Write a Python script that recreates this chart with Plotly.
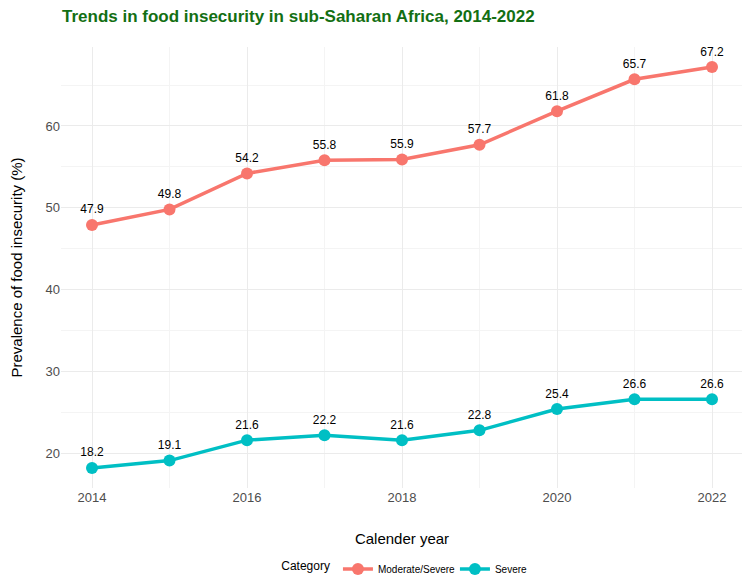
import plotly.graph_objects as go

years = [2014, 2015, 2016, 2017, 2018, 2019, 2020, 2021, 2022]
moderate_severe = [47.9, 49.8, 54.2, 55.8, 55.9, 57.7, 61.8, 65.7, 67.2]
severe = [18.2, 19.1, 21.6, 22.2, 21.6, 22.8, 25.4, 26.6, 26.6]
series_names = ["Moderate/Severe", "Severe"]
series_colors = ["#F8766D", "#00BFC4"]

fig = go.Figure()
for name, vals, col in zip(series_names, [moderate_severe, severe], series_colors):
    fig.add_trace(go.Scatter(
        x=years, y=vals, name=name, mode="lines+markers+text",
        line=dict(color=col, width=3.5),
        marker=dict(color=col, size=12),
        text=[f"{v:.1f}" for v in vals], textposition="top center",
        textfont=dict(family="Liberation Sans, Arial", size=12, color="black"),
        cliponaxis=False,
    ))

fig.update_layout(
    width=750, height=587,
    margin=dict(l=53, r=15, t=39, b=107),
    plot_bgcolor="white", paper_bgcolor="white",
    font=dict(family="Liberation Sans, Arial", color="#4D4D4D"),
    title=dict(text="<b>Trends in food insecurity in sub-Saharan Africa, 2014-2022</b>",
               x=54 / 750, xanchor="left", xref="container",
               y=1 - 8 / 587, yanchor="middle", yref="container",
               font=dict(size=17, color="#136F13")),
    xaxis=dict(range=[2013.6, 2022.4], tickvals=[2014, 2016, 2018, 2020, 2022],
               automargin=False,
               showgrid=True, gridcolor="#EBEBEB", gridwidth=1.2,
               minor=dict(tickvals=[2015, 2017, 2019, 2021], showgrid=True, gridcolor="#F4F4F4", gridwidth=0.8),
               zeroline=False, showline=False, ticks="",
               tickfont=dict(size=13, color="#4D4D4D"),
               title=dict(text="Calender year", font=dict(size=15, color="black"), standoff=29)),
    yaxis=dict(range=[15.75, 69.65], tickvals=[20, 30, 40, 50, 60],
               automargin=False,
               showgrid=True, gridcolor="#EBEBEB", gridwidth=1.2,
               minor=dict(tickvals=[25, 35, 45, 55, 65], showgrid=True, gridcolor="#F4F4F4", gridwidth=0.8),
               zeroline=False, showline=False, ticks="",
               tickfont=dict(size=13, color="#4D4D4D"),
               title=dict(text="Prevalence of food insecurity (%)", font=dict(size=15, color="black"), standoff=33)),
    legend=dict(orientation="h", x=0.32, xanchor="left", y=(480 - 561) / 441, yanchor="middle",
                title=dict(text="Category", font=dict(size=12, color="black")),
                font=dict(size=10, color="black"), itemwidth=30,
                entrywidth=72, entrywidthmode="pixels"),
    showlegend=True,
)

fig.write_html("out.html")
